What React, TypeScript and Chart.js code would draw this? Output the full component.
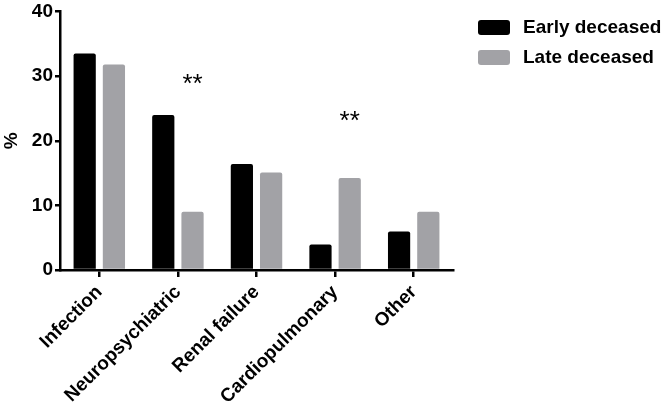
import React, { useEffect, useRef } from 'react';
import { Chart, registerables } from 'chart.js';

Chart.register(...registerables);

const categories = ['Infection', 'Neuropsychiatric', 'Renal failure', 'Cardiopulmonary', 'Other'];
const earlyDeceased = [33.5, 24.0, 16.4, 3.95, 5.95];
const lateDeceased = [31.8, 9.0, 15.1, 14.25, 9.0];
const seriesNames = ['Early deceased', 'Late deceased'];
const significance = ['', '**', '', '**', ''];
const significanceLevel: (number | null)[] = [null, 29.2, null, 23.5, null];
const yMin = 0;
const yMax = 40;
const yStep = 10;

const FONT = '"Liberation Sans", Arial, Helvetica, sans-serif';
const BLACK = '#000000';
const GRAY = '#a2a2a6';

const sigPlugin = {
  id: 'sigPlugin',
  afterDatasetsDraw(chart: any) {
    const meta = chart.getDatasetMeta(1);
    const ctx = chart.ctx;
    ctx.save();
    ctx.fillStyle = '#000';
    ctx.font = `normal 26px ${FONT}`;
    ctx.textAlign = 'center';
    ctx.textBaseline = 'middle';
    significance.forEach((s, i) => {
      const lvl = significanceLevel[i];
      if (!s || lvl == null) return;
      const x = meta.data[i].x;
      const y = chart.scales.y.getPixelForValue(lvl);
      ctx.fillText(s, x, y + 4);
    });
    ctx.restore();
  },
};

const legendPlugin = {
  id: 'customLegend',
  afterDraw(chart: any) {
    const ctx = chart.ctx;
    ctx.save();
    chart.data.datasets.forEach((ds: any, i: number) => {
      const bx = 478;
      const by = 20 + i * 30;
      ctx.fillStyle = ds.backgroundColor;
      ctx.beginPath();
      ctx.roundRect(bx, by, 32, 15, 3);
      ctx.fill();
      ctx.fillStyle = '#000';
      ctx.font = `bold 19px ${FONT}`;
      ctx.textAlign = 'left';
      ctx.textBaseline = 'middle';
      ctx.fillText(ds.label, 523, by + 8);
    });
    ctx.restore();
  },
};

export default function App() {
  const ref = useRef<HTMLCanvasElement | null>(null);
  useEffect(() => {
    if (!ref.current) return;
    const chart = new Chart(ref.current, {
      type: 'bar',
      data: {
        labels: categories,
        datasets: [
          {
            label: seriesNames[0],
            data: earlyDeceased,
            backgroundColor: BLACK,
            borderRadius: 2,
            borderSkipped: 'bottom',
            categoryPercentage: 0.744,
            barPercentage: 0.76,
          },
          {
            label: seriesNames[1],
            data: lateDeceased,
            backgroundColor: GRAY,
            borderRadius: 2,
            borderSkipped: 'bottom',
            categoryPercentage: 0.744,
            barPercentage: 0.76,
          },
        ],
      },
      options: {
        animation: false,
        responsive: false,
        maintainAspectRatio: false,
        layout: { padding: { top: 0, right: 211, left: 0, bottom: 0 } },
        plugins: {
          legend: { display: false },
          tooltip: { enabled: false },
        },
        scales: {
          x: {
            grid: {
              offset: false,
              drawOnChartArea: false,
              drawTicks: true,
              tickLength: 7,
              color: '#000',
              lineWidth: 2.5,
            },
            border: { color: '#000', width: 2.5 },
            ticks: {
              color: '#000',
              font: { family: FONT, size: 19, weight: 'bold' },
              minRotation: 45,
              maxRotation: 45,
              padding: 4,
            },
            afterFit: (s: any) => {
              s.height = 138;
            },
          },
          y: {
            min: yMin,
            max: yMax,
            grid: {
              drawOnChartArea: false,
              drawTicks: true,
              tickLength: 5,
              color: '#000',
              lineWidth: 2.5,
            },
            border: { color: '#000', width: 2.5 },
            ticks: {
              stepSize: yStep,
              color: '#000',
              font: { family: FONT, size: 19, weight: 'bold', lineHeight: 1.0 },
              padding: 2,
            },
            title: {
              display: true,
              text: '%',
              color: '#000',
              font: { family: FONT, size: 19, weight: 'bold' },
              padding: 0,
            },
            afterFit: (s: any) => {
              s.width = 60;
            },
          },
        },
      },
      plugins: [sigPlugin, legendPlugin],
    });
    return () => chart.destroy();
  }, []);
  return (
    <div style={{ position: 'fixed', left: 0, top: 0, width: 664, height: 408, background: '#fff' }}>
      <canvas ref={ref} width={664} height={408} style={{ width: 664, height: 408 }} />
    </div>
  );
}
